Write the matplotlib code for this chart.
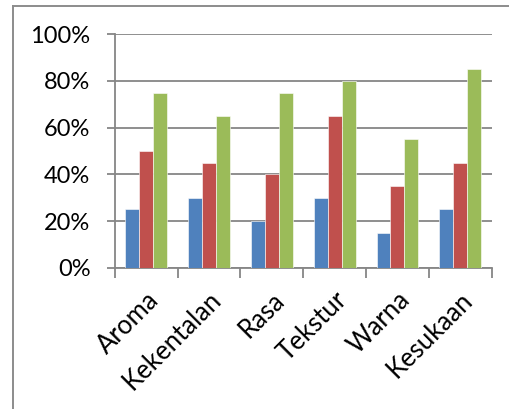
import matplotlib
matplotlib.use('Agg')
import matplotlib.pyplot as plt
import matplotlib.ticker as ticker
from matplotlib.lines import Line2D
import numpy as np

categories = ["Aroma", "Kekentalan", "Rasa", "Tekstur", "Warna", "Kesukaan"]
series_1 = [0.25, 0.30, 0.20, 0.30, 0.15, 0.25]
series_2 = [0.50, 0.45, 0.40, 0.65, 0.35, 0.45]
series_3 = [0.75, 0.65, 0.75, 0.80, 0.55, 0.85]
y_ticks = [0, 0.2, 0.4, 0.6, 0.8, 1.0]

colors = ["#4F81BD", "#C0504D", "#9BBB59"]
grid_col = "#868686"

plt.rcParams['font.family'] = ['Lato', 'DejaVu Sans']

W, H = 509, 409
fig = plt.figure(figsize=(W / 100, H / 100), dpi=100)
ax = fig.add_axes([114.7 / W, 1 - 267.7 / H, (491.7 - 114.7) / W, (267.7 - 34.3) / H])

# outer chart frame (only top and left edges visible)
fig.add_artist(Line2D([13 / W, 13 / W], [0, 1 - 6 / H], transform=fig.transFigure,
                      color="#8c8c8c", lw=1.4))
fig.add_artist(Line2D([13 / W, 1], [1 - 6 / H, 1 - 6 / H], transform=fig.transFigure,
                      color="#8c8c8c", lw=1.4))

x = np.arange(len(categories))
bw = 0.222
for i, vals in enumerate([series_1, series_2, series_3]):
    ax.bar(x + (i - 1) * bw, vals, width=bw, color=colors[i],
           edgecolor="white", linewidth=0.4, zorder=3)

ax.set_xlim(-0.5, len(categories) - 0.5)
ax.set_ylim(0, 1.0)
ax.set_yticks(y_ticks)
ax.yaxis.set_major_formatter(ticker.FuncFormatter(lambda v, _: f"{int(round(v * 100))}%"))
ax.grid(axis='y', color=grid_col, linewidth=1.3, zorder=0)
ax.tick_params(axis='y', length=5.5, width=1.3, color=grid_col, labelsize=17, pad=12)

ax.set_xticks(x)
ax.set_xticklabels(categories, rotation=45, ha='right', va='top', rotation_mode='anchor')
ax.tick_params(axis='x', length=0, labelsize=18.5, pad=14)
ax.set_xticks(np.arange(len(categories) + 1) - 0.5, minor=True)
ax.tick_params(axis='x', which='minor', length=7, width=1.3, color=grid_col, direction='out')

for s in ['top', 'right']:
    ax.spines[s].set_visible(False)
for s in ['left', 'bottom']:
    ax.spines[s].set_color(grid_col)
    ax.spines[s].set_linewidth(1.3)

fig.savefig("out.png", dpi=100)
